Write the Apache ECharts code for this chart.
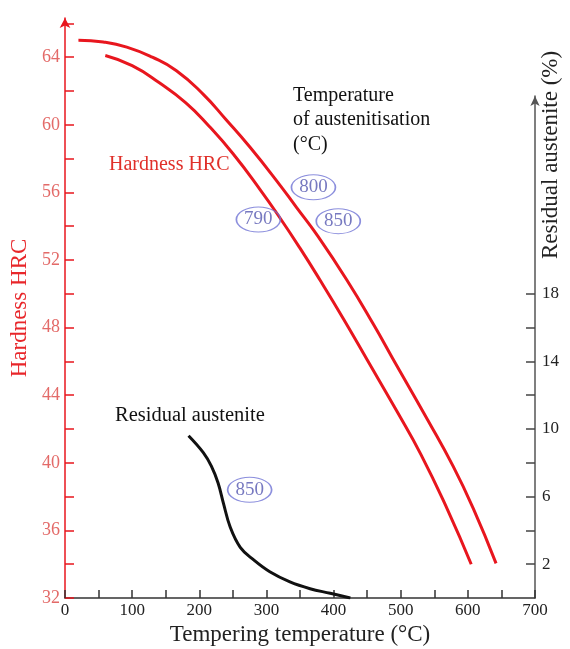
<!DOCTYPE html>
<html>
<head>
<meta charset="utf-8">
<script src="https://cdn.jsdelivr.net/npm/echarts@6/dist/echarts.min.js"></script>
<style>html,body{margin:0;padding:0;background:#fff;}#chart{width:570px;height:649px;}</style>
</head>
<body>
<div id="chart"></div>
<script>
// Tempering temperature (°C) and hardness (HRC) — austenitised at 790 °C (inner curve)
const temps790 = [60,100,140,180,215,250,290,320,350,380,415,450,495,530,570,605];
const hrc790   = [64.1,63.5,62.5,61.3,59.9,58.3,56.2,54.5,52.7,50.8,48.5,46.1,43.0,40.5,37.2,34.0];
// austenitised at 850 °C (outer curve)
const temps850 = [20,57,92,130,166,206,240,275,315,345,375,420,460,487,540,578,608,642];
const hrc850   = [65.0,64.9,64.6,64.0,63.2,61.8,60.3,58.7,56.7,55.1,53.5,50.8,48.15,46.25,42.55,39.8,37.3,34.05];
// Residual austenite (%) vs tempering temperature, austenitised at 850 °C
const tempsRA = [184,206,218,228,236,246,261,281,305,335,365,395,425];
const resRA   = [9.6,8.6,7.8,6.8,5.6,4.2,3.0,2.25,1.55,0.95,0.55,0.28,0];
// Austenitisation temperature tags: [tempering temp, HRC, label]
const tags = [[370,56.3,'800'],[288,54.4,'790'],[407,54.3,'850'],[275,38.4,'850']];
// Tick values
const xTicks = [0,50,100,150,200,250,300,350,400,450,500,550,600,650,700];
const xLabels = [0,100,200,300,400,500,600,700];
const hrcTicks = [32,34,36,38,40,42,44,46,48,50,52,54,56,58,60,62,64,66];
const hrcLabels = [32,36,40,44,48,52,56,60,64];
const raTicks = [2,4,6,8,10,12,14,16,18];
const raLabels = [2,6,10,14,18];

const zip = (a,b) => a.map((v,i)=>[v,b[i]]);
const SERIF = '"Liberation Serif","Times New Roman",serif';
const RED = '#e8161e';

const chart = echarts.init(document.getElementById('chart'), null, {renderer:'canvas'});
chart.setOption({
  animation:false,
  backgroundColor:'#fff',
  textStyle:{fontFamily:SERIF},
  grid:[
    {left:65,right:35,top:18,bottom:51,outerBoundsMode:'none'},
    {left:65,right:35,top:96,bottom:51,outerBoundsMode:'none'}
  ],
  xAxis:[
    {type:'value',gridIndex:0,min:0,max:700,interval:50,
     name:'Tempering temperature (°C)',nameLocation:'middle',nameGap:23,
     nameTextStyle:{fontFamily:SERIF,fontSize:23,color:'#222'},
     axisLine:{show:true,onZero:false,lineStyle:{color:'#333',width:1.5}},
     axisTick:{show:true,inside:true,length:8,customValues:xTicks,lineStyle:{color:'#333',width:1.5}},
     axisLabel:{show:true,customValues:xLabels,margin:4,fontFamily:SERIF,fontSize:17,color:'#222'},
     splitLine:{show:false}},
    {type:'value',gridIndex:1,min:0,max:700,show:false,axisLine:{onZero:false},splitLine:{show:false}}
  ],
  yAxis:[
    {type:'value',gridIndex:0,min:32,max:66.32,position:'left',
     name:'Hardness HRC',nameLocation:'middle',nameGap:30,nameRotate:90,
     nameTextStyle:{fontFamily:SERIF,fontSize:23,color:'#e8262a'},
     axisLine:{show:true,onZero:false,symbol:['none','arrow'],symbolSize:[8,10],lineStyle:{color:RED,width:1.5}},
     axisTick:{show:true,inside:true,length:9,customValues:hrcTicks,lineStyle:{color:RED,width:1.5}},
     axisLabel:{show:true,customValues:hrcLabels,margin:5,fontFamily:SERIF,fontSize:18,color:'#e36a68'},
     splitLine:{show:false}},
    {type:'value',gridIndex:1,min:0,max:29.7,position:'right',
     axisLine:{show:true,onZero:false,symbol:['none','arrow'],symbolSize:[7,10],lineStyle:{color:'#555',width:1.5}},
     axisTick:{show:true,inside:true,length:9,customValues:raTicks,lineStyle:{color:'#444',width:1.5}},
     axisLabel:{show:true,customValues:raLabels,margin:7,fontFamily:SERIF,fontSize:17,color:'#222'},
     splitLine:{show:false}}
  ],
  series:[
    {type:'line',name:'790',xAxisIndex:0,yAxisIndex:0,data:zip(temps790,hrc790),
     smooth:0.5,showSymbol:false,lineStyle:{color:RED,width:3}},
    {type:'line',name:'850',xAxisIndex:0,yAxisIndex:0,data:zip(temps850,hrc850),
     smooth:0.5,showSymbol:false,lineStyle:{color:RED,width:3}},
    {type:'line',name:'Residual austenite',xAxisIndex:1,yAxisIndex:1,data:zip(tempsRA,resRA),
     smooth:0.4,showSymbol:false,lineStyle:{color:'#111',width:3}},
    {type:'scatter',xAxisIndex:0,yAxisIndex:0,data:tags,symbol:'circle',symbolSize:[44,25],
     itemStyle:{color:'rgba(255,255,255,0)',borderColor:'#6f73d4',borderWidth:1.3},
     label:{show:true,position:'inside',formatter:p=>p.value[2],fontFamily:SERIF,fontSize:19,color:'#5558b0'},
     z:5}
  ],
  graphic:[
    {type:'text',left:109,top:155,style:{text:'Hardness HRC',font:'20px '+SERIF,fill:'#e0302a'}},
    {type:'text',left:293,top:83,style:{text:'Temperature\nof austenitisation\n(°C)',font:'20px '+SERIF,fill:'#111',lineHeight:24.5}},
    {type:'text',left:115,top:405,style:{text:'Residual austenite',font:'20.5px '+SERIF,fill:'#111'}},
    {type:'text',x:551,y:155,rotation:Math.PI/2,style:{text:'Residual austenite (%)',font:'23px '+SERIF,fill:'#222',textAlign:'center',textVerticalAlign:'middle'}}
  ]
});
</script>
</body>
</html>
